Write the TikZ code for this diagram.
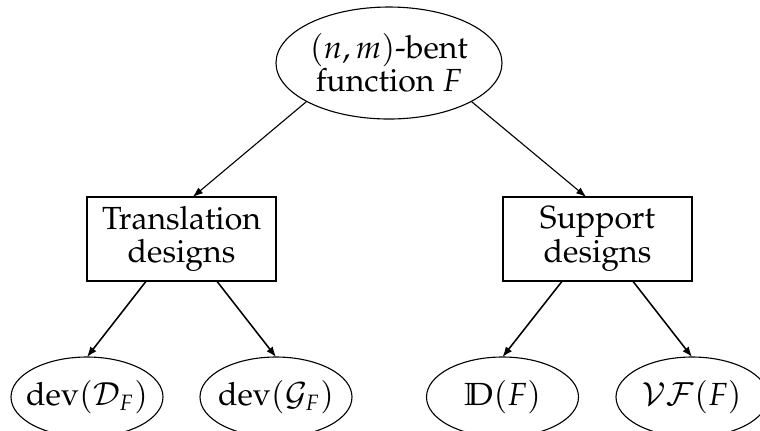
\documentclass[tikz,border=0pt]{standalone}
\usepackage[T1]{fontenc}
\usepackage{mathpazo}
\usetikzlibrary{shapes.geometric,arrows.meta}
\newcommand{\pxu}{0.45pt}
\begin{document}
\begin{tikzpicture}[x=\pxu,y=-\pxu,
  every node/.style={font=\fontsize{14.4}{15}\selectfont, inner sep=0pt, outer sep=0pt},
  oval/.style={draw, ellipse, line width=0.5pt},
  rootoval/.style={oval, minimum width=226*\pxu, minimum height=112*\pxu, align=center},
  leaf/.style={oval, minimum width=152*\pxu, minimum height=80*\pxu},
  stepbox/.style={draw, rectangle, line width=0.5pt, minimum width=189*\pxu, minimum height=84*\pxu, align=center},
  upper/.style={-{Latex[length=4.6pt,width=3.3pt]}, line width=0.5pt},
  lower/.style={-{Latex[length=4.6pt,width=3.5pt]}, line width=0.7pt}]
  % page frame
  \clip (0,0) rectangle (760,430);

  % root
  \node[rootoval] (root) at (389,63) {$(n,m)$-bent\\function $F$};

  % design families
  \node[stepbox] (trans) at (181.5,239) {Translation\\designs};
  \node[stepbox] (supp) at (597.5,239) {Support\\designs};

  % leaves
  \node[leaf] (devD) at (87,397) {\makebox[0pt]{$\mathrm{dev}(\mathcal{D}_F)$}};
  \node[leaf] (devG) at (276,397) {\makebox[0pt]{$\mathrm{dev}(\mathcal{G}_F)$}};
  \node[leaf] (bbD) at (502.5,397) {\makebox[0pt]{$\mathbb{D}(F)$}};
  \node[leaf] (VF) at (692,397) {\makebox[0pt]{$\mathcal{V}\mathcal{F}(F)$}};

  % connectors
  \draw[upper] (root.205) -- (trans.75);
  \draw[upper] (root.-25) -- (supp.105);
  \draw[lower] (trans.230) -- (devD.north);
  \draw[lower] (trans.310) -- (devG.north);
  \draw[lower] (supp.230) -- (bbD.north);
  \draw[lower] (supp.310) -- (VF.north);
\end{tikzpicture}
\end{document}
